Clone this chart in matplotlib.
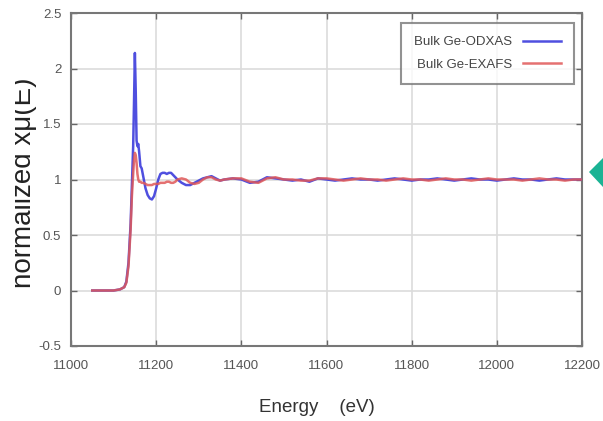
import matplotlib
matplotlib.use("Agg")
import matplotlib.pyplot as plt
from matplotlib.patches import Polygon, Rectangle

plt.rcParams['font.family'] = ['Liberation Sans', 'DejaVu Sans']

# energies (eV)
energy = [11050, 11080, 11100, 11115, 11125, 11130, 11135, 11140, 11143, 11146,
          11148, 11150, 11152, 11154, 11156, 11158, 11160, 11163, 11166, 11170,
          11175, 11180, 11185, 11190, 11195, 11200, 11205, 11210, 11215, 11220,
          11225, 11230, 11235, 11240, 11245, 11250, 11260, 11270, 11280, 11290,
          11300, 11310, 11320, 11330, 11340, 11350, 11360, 11380, 11400, 11420,
          11440, 11460, 11480, 11500, 11520, 11540, 11560, 11580, 11600, 11620,
          11640, 11660, 11680, 11700, 11720, 11740, 11760, 11780, 11800, 11820,
          11840, 11860, 11880, 11900, 11920, 11940, 11960, 11980, 12000, 12020,
          12040, 12060, 12080, 12100, 12120, 12140, 12160, 12180, 12200]

# Bulk Ge-ODXAS
odxas = [0.00, 0.00, 0.00, 0.01, 0.03, 0.08, 0.25, 0.60, 0.95, 1.30,
         1.70, 2.14, 1.80, 1.35, 1.30, 1.32, 1.25, 1.12, 1.10, 1.02,
         0.92, 0.86, 0.83, 0.82, 0.85, 0.92, 1.00, 1.05, 1.06, 1.06,
         1.05, 1.06, 1.06, 1.04, 1.02, 1.00, 0.97, 0.95, 0.95, 0.97,
         0.99, 1.01, 1.02, 1.03, 1.01, 0.99, 1.00, 1.01, 1.00, 0.97,
         0.98, 1.02, 1.01, 1.00, 0.99, 1.00, 0.98, 1.01, 1.00, 0.99,
         1.00, 1.01, 1.00, 1.00, 0.99, 1.00, 1.01, 1.00, 0.99, 1.00,
         1.00, 1.01, 1.00, 0.99, 1.00, 1.01, 1.00, 1.00, 0.99, 1.00,
         1.01, 1.00, 1.00, 0.99, 1.00, 1.01, 1.00, 1.00, 1.00]

# Bulk Ge-EXAFS
exafs = [0.00, 0.00, 0.00, 0.01, 0.03, 0.07, 0.22, 0.55, 0.85, 1.05,
         1.18, 1.24, 1.22, 1.15, 1.05, 1.00, 0.98, 0.98, 0.97, 0.97,
         0.96, 0.95, 0.95, 0.95, 0.96, 0.96, 0.96, 0.97, 0.97, 0.97,
         0.98, 0.98, 0.97, 0.97, 0.98, 1.00, 1.01, 1.00, 0.97, 0.96,
         0.97, 1.00, 1.02, 1.02, 1.00, 0.99, 1.00, 1.01, 1.01, 0.98,
         0.97, 1.01, 1.02, 1.00, 1.00, 0.99, 0.99, 1.01, 1.01, 1.00,
         0.99, 1.00, 1.01, 1.00, 1.00, 0.99, 1.00, 1.01, 1.00, 1.00,
         0.99, 1.00, 1.01, 1.00, 1.00, 0.99, 1.00, 1.01, 1.00, 1.00,
         1.00, 0.99, 1.00, 1.01, 1.00, 1.00, 0.99, 1.00, 1.00]

W, H = 603, 421
fig = plt.figure(figsize=(W / 100, H / 100), dpi=100)
ax = fig.add_axes([71 / W, 1 - 346 / H, 511 / W, 333 / H])

ax.plot(energy, odxas, color='#3c3cdc', lw=1.8, alpha=0.9, label='Bulk Ge-ODXAS', zorder=3)
ax.plot(energy, exafs, color='#e05858', lw=1.8, alpha=0.85, label='Bulk Ge-EXAFS', zorder=4)

ax.set_xlim(11000, 12200)
ax.set_ylim(-0.5, 2.5)
ax.set_xticks([11000, 11200, 11400, 11600, 11800, 12000, 12200])
ax.set_yticks([-0.5, 0, 0.5, 1, 1.5, 2, 2.5])
ax.set_yticklabels(['-0.5', '0', '0.5', '1', '1.5', '2', '2.5'])
ax.grid(True, color='#dcdcdc', lw=1.2)
ax.set_axisbelow(True)
ax.tick_params(direction='in', length=4, width=1, color='#666666',
               labelsize=9.5, labelcolor='#555555', top=True, right=True)
ax.tick_params(axis='x', pad=10)
ax.tick_params(axis='y', pad=7)
for s in ax.spines.values():
    s.set_color('#777777')
    s.set_linewidth(1.5)

fig.text(317 / W, 1 - 408 / H, 'Energy    (eV)', fontsize=13.5, color='#333333',
         ha='center', va='center')

leg = ax.legend(loc='upper right', bbox_to_anchor=(574 / W, 1 - 23 / H),
                bbox_transform=fig.transFigure, markerfirst=False, fontsize=9.5,
                frameon=True, fancybox=False, handlelength=2.9, borderpad=1.0,
                labelspacing=0.75, handletextpad=0.8, borderaxespad=0)
leg.get_frame().set_edgecolor('#777777')
leg.get_frame().set_linewidth(1.5)
for t in leg.get_texts():
    t.set_color('#444444')

# y label, cut off at the left edge like the screenshot
fig.text(37 / W, 1 - 183 / H, 'normalized x\u03bc(E)', rotation=90, fontsize=20,
         color='#222222', ha='right', va='center')
fig.patches.append(Rectangle((0, 0), 15 / W, 1, transform=fig.transFigure,
                             facecolor='white', edgecolor='none', zorder=10))

# green arrow on the right edge
fig.patches.append(Polygon([(589 / W, 1 - 172 / H), (W / W, 1 - 158 / H), (W / W, 1 - 187 / H)],
                           closed=True, transform=fig.transFigure,
                           facecolor='#1bb394', edgecolor='none', zorder=10))

fig.savefig('out.png', dpi=100)
